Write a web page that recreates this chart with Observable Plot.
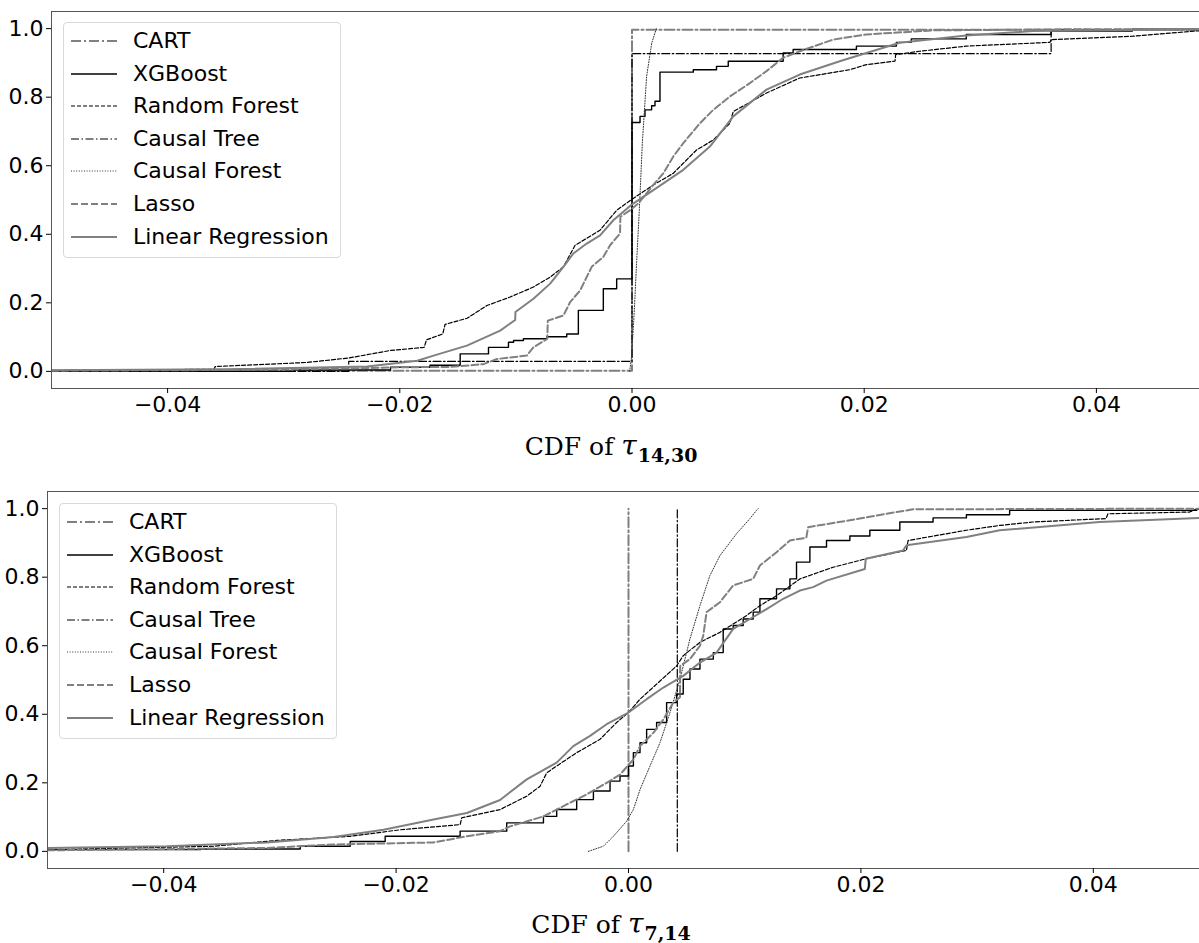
<!DOCTYPE html>
<html><head><meta charset="utf-8">
<script src="https://cdn.jsdelivr.net/npm/d3@7"></script>
<script src="https://cdn.jsdelivr.net/npm/@observablehq/plot@0.6"></script>
<style>
html,body{margin:0;padding:0;background:#fff;overflow:hidden;width:1199px;height:943px;}
.panel{position:absolute;left:0;width:1199px;}
.legend{position:absolute;background:rgba(255,255,255,0.85);border:1px solid #d9d9d9;border-radius:4px;box-sizing:border-box;font-family:"DejaVu Sans";font-size:22px;color:#000;}
.legend .row{position:absolute;left:0;height:32px;width:100%;}
.legend .row svg{position:absolute;left:6px;top:0;}
.legend .row span{position:absolute;left:69px;top:0;line-height:32px;white-space:nowrap;}
.caption{position:absolute;left:411px;width:400px;text-align:center;font-family:"DejaVu Serif";font-size:25px;line-height:25px;color:#000;white-space:nowrap;}
.caption i{font-style:italic;font-size:28px;}
.caption b{position:relative;top:7px;font-size:19px;font-weight:bold;margin-left:1px;}
</style></head><body>
<div id="top" class="panel" style="top:0"></div>
<div id="bottom" class="panel" style="top:480px"></div>
<div class="caption" style="top:433px">CDF of <i>τ</i><b>14,30</b></div>
<div class="caption" style="top:911px">CDF of <i>τ</i><b>7,14</b></div>
<script>
// ---------- data (x = treatment effect, y = cumulative share) ----------
const methodNames = ["CART","XGBoost","Random Forest","Causal Tree","Causal Forest","Lasso","Linear Regression"];
const xTicks = [-0.04,-0.02,0.00,0.02,0.04];
const yTicks = [0.0,0.2,0.4,0.6,0.8,1.0];

// panel 1 : tau_{14,30}
const top_CART = [[-0.05,0.002],[0,0.997],[0.05,0.997]];
const top_XGBoost = [[-0.05,0.0],[-0.0291,0.004],[-0.0208,0.012],[-0.0174,0.018],[-0.0148,0.051],[-0.01236,0.070],[-0.01064,0.085],[-0.0102,0.090],[-0.00935,0.095],[-0.00734,0.101],[-0.00562,0.109],[-0.00462,0.178],[-0.00247,0.241],[-0.00132,0.270],[0,0.726],[0.00069,0.744],[0.00112,0.763],[0.00169,0.775],[0.00198,0.788],[0.00241,0.873],[0.00528,0.880],[0.00728,0.890],[0.00829,0.905],[0.01302,0.929],[0.01388,0.939],[0.01933,0.949],[0.02277,0.960],[0.02406,0.970],[0.02879,0.983],[0.0361,0.993],[0.0431,0.998],[0.05,0.998]];
const top_RandomForest = [[-0.05,0.003],[-0.036,0.006],[-0.0359,0.014],[-0.028,0.026],[-0.0244,0.039],[-0.0208,0.061],[-0.0179,0.070],[-0.0177,0.092],[-0.0163,0.109],[-0.0161,0.137],[-0.0142,0.155],[-0.0125,0.192],[-0.01049,0.217],[-0.00849,0.246],[-0.00705,0.275],[-0.00591,0.305],[-0.0049,0.368],[-0.0039,0.388],[-0.00275,0.412],[-0.00132,0.470],[-0.00009,0.500],[0.00184,0.544],[0.00356,0.578],[0.00556,0.646],[0.007,0.675],[0.00843,0.724],[0.00872,0.758],[0.01158,0.812],[0.01445,0.856],[0.01875,0.880],[0.02019,0.895],[0.02265,0.905],[0.02271,0.924],[0.02477,0.934],[0.02879,0.949],[0.036,0.960],[0.0361,0.968],[0.04313,0.978],[0.04857,0.993],[0.05,0.995]];
const top_CausalTree = [[-0.05,0.0],[-0.0244,0.029],[0,0.927],[0.0361,0.997],[0.05,0.997]];
const top_CausalForest = [[-0.0002,0.0],[-0.00005,0.04],[0.0001,0.12],[0.0002,0.178],[0.0004,0.32],[0.00063,0.47],[0.00089,0.666],[0.00126,0.861],[0.0017,0.958],[0.0021,1.0]];
const top_Lasso = [[-0.05,0.002],[-0.035,0.004],[-0.025,0.008],[-0.01996,0.012],[-0.01566,0.013],[-0.01279,0.021],[-0.01164,0.036],[-0.00906,0.046],[-0.00849,0.070],[-0.0073,0.095],[-0.00725,0.148],[-0.00591,0.163],[-0.00533,0.202],[-0.00447,0.236],[-0.00347,0.305],[-0.00247,0.334],[-0.00189,0.368],[-0.00103,0.402],[-0.001,0.451],[-0.00017,0.470],[0.00054,0.490],[0.00184,0.544],[0.0027,0.578],[0.00356,0.627],[0.00442,0.666],[0.00585,0.724],[0.007,0.763],[0.00843,0.802],[0.01015,0.841],[0.01158,0.876],[0.01302,0.915],[0.01445,0.934],[0.01732,0.968],[0.02019,0.983],[0.02592,0.995],[0.0374,0.998],[0.05,0.999]];
const top_LinearRegression = [[-0.05,0.003],[-0.035,0.006],[-0.0228,0.014],[-0.0185,0.031],[-0.01709,0.046],[-0.01422,0.075],[-0.01135,0.119],[-0.01006,0.150],[-0.01004,0.173],[-0.00849,0.212],[-0.00705,0.256],[-0.00591,0.305],[-0.00505,0.344],[-0.0039,0.373],[-0.00275,0.397],[-0.00161,0.441],[-0.00009,0.485],[0.00184,0.529],[0.00442,0.588],[0.00671,0.656],[0.00872,0.744],[0.01158,0.822],[0.01445,0.866],[0.01789,0.905],[0.02019,0.929],[0.02306,0.959],[0.02879,0.980],[0.03452,0.993],[0.04877,0.998],[0.05,0.998]];

// panel 2 : tau_{7,14}
const bot_CART = [[0,0],[0,1]];
const bot_XGBoost = [[-0.05,0.005],[-0.03684,0.007],[-0.02825,0.015],[-0.02395,0.029],[-0.02094,0.044],[-0.01449,0.059],[-0.01048,0.083],[-0.00732,0.102],[-0.00618,0.122],[-0.00446,0.151],[-0.00302,0.176],[-0.00159,0.205],[-0.00073,0.220],[0,0.249],[0.00042,0.288],[0.00099,0.317],[0.00156,0.356],[0.00242,0.376],[0.00328,0.434],[0.00414,0.459],[0.00471,0.502],[0.00529,0.532],[0.00615,0.561],[0.0073,0.580],[0.00815,0.649],[0.00901,0.659],[0.00987,0.678],[0.01073,0.698],[0.01131,0.737],[0.01274,0.766],[0.01389,0.795],[0.01446,0.844],[0.01561,0.888],[0.01704,0.907],[0.01905,0.920],[0.02077,0.937],[0.02335,0.961],[0.02621,0.973],[0.02908,0.982],[0.0328,0.995],[0.0489,0.998],[0.05,0.998]];
const bot_RandomForest = [[-0.05,0.005],[-0.0357,0.015],[-0.03025,0.032],[-0.02395,0.044],[-0.01964,0.063],[-0.01449,0.078],[-0.01435,0.098],[-0.01105,0.122],[-0.00876,0.161],[-0.00761,0.190],[-0.00704,0.229],[-0.00618,0.249],[-0.00446,0.288],[-0.00245,0.327],[-0.00102,0.376],[-0.00001,0.405],[0.00099,0.444],[0.00242,0.488],[0.00414,0.541],[0.00471,0.571],[0.00615,0.610],[0.00787,0.639],[0.01016,0.688],[0.01131,0.717],[0.01274,0.746],[0.01475,0.795],[0.01761,0.829],[0.02048,0.854],[0.02392,0.878],[0.02406,0.907],[0.02908,0.937],[0.03195,0.951],[0.03481,0.961],[0.0411,0.971],[0.04126,0.985],[0.04828,0.990],[0.04885,0.998],[0.05,0.998]];
const bot_CausalTree = [[0.0042,0],[0.0042,1]];
const bot_CausalForest = [[-0.00345,0.0],[-0.00216,0.015],[-0.0013,0.044],[-0.00016,0.088],[0.00042,0.122],[0.00099,0.180],[0.00185,0.249],[0.00271,0.317],[0.00357,0.405],[0.00443,0.502],[0.00529,0.620],[0.00615,0.717],[0.00701,0.805],[0.00787,0.863],[0.0093,0.927],[0.01045,0.971],[0.01102,0.995],[0.01116,1.0]];
const bot_Lasso = [[-0.05,0.003],[-0.03111,0.010],[-0.02538,0.020],[-0.01678,0.026],[-0.01391,0.044],[-0.01105,0.059],[-0.01019,0.073],[-0.00732,0.102],[-0.00532,0.137],[-0.0036,0.166],[-0.00188,0.200],[-0.00073,0.224],[0.00042,0.268],[0.00099,0.307],[0.00214,0.346],[0.003,0.385],[0.00385,0.434],[0.00443,0.450],[0.00445,0.541],[0.00529,0.561],[0.00615,0.600],[0.00643,0.629],[0.00672,0.698],[0.00787,0.727],[0.00901,0.776],[0.01073,0.795],[0.01131,0.834],[0.01274,0.873],[0.01389,0.907],[0.0153,0.915],[0.01546,0.946],[0.01905,0.966],[0.02221,0.985],[0.02449,0.998],[0.05,1.0]];
const bot_LinearRegression = [[-0.05,0.010],[-0.03971,0.015],[-0.03111,0.026],[-0.02538,0.042],[-0.02108,0.063],[-0.01678,0.093],[-0.01391,0.112],[-0.01105,0.150],[-0.00876,0.210],[-0.00618,0.259],[-0.00475,0.307],[-0.00331,0.337],[-0.00188,0.371],[0.0,0.405],[0.00156,0.444],[0.003,0.478],[0.00471,0.512],[0.00615,0.551],[0.00758,0.580],[0.00901,0.649],[0.01045,0.678],[0.01188,0.707],[0.01331,0.737],[0.01475,0.761],[0.01589,0.771],[0.01704,0.790],[0.02034,0.824],[0.02042,0.854],[0.02363,0.878],[0.02392,0.893],[0.02908,0.917],[0.03195,0.937],[0.04054,0.961],[0.04906,0.973],[0.05,0.973]];

// ---------- styles ----------
const lineStyle = {
  "CART":              {stroke:"#808080", strokeWidth:2,   strokeDasharray:"10,3,2,3",      curve:"step-after"},
  "XGBoost":           {stroke:"#000000", strokeWidth:1.4, strokeDasharray:null,            curve:"step-after"},
  "Random Forest":     {stroke:"#000000", strokeWidth:1.2, strokeDasharray:"4,2",           curve:"linear"},
  "Causal Tree":       {stroke:"#000000", strokeWidth:1.2, strokeDasharray:"8,2.5,1.5,2.5", curve:"step-after"},
  "Causal Forest":     {stroke:"#333333", strokeWidth:1,   strokeDasharray:"1,1.6",         curve:"linear"},
  "Lasso":             {stroke:"#808080", strokeWidth:2,   strokeDasharray:"7,3",           curve:"linear"},
  "Linear Regression": {stroke:"#808080", strokeWidth:2,   strokeDasharray:null,            curve:"linear"}
};

const topSeries = [top_CART, top_XGBoost, top_RandomForest, top_CausalTree, top_CausalForest, top_Lasso, top_LinearRegression];
const botSeries = [bot_CART, bot_XGBoost, bot_RandomForest, bot_CausalTree, bot_CausalForest, bot_Lasso, bot_LinearRegression];

function makePanel(series, marginLeft, marginRight) {
  const marks = series.map((data, i) => {
    const s = lineStyle[methodNames[i]];
    const opts = {x: d => d[0], y: d => d[1], stroke: s.stroke, strokeWidth: s.strokeWidth, curve: s.curve, clip: true};
    if (s.strokeDasharray) opts.strokeDasharray = s.strokeDasharray;
    return Plot.line(data, opts);
  });
  return Plot.plot({
    width: 1199, height: 420,
    marginLeft, marginRight, marginTop: 11, marginBottom: 32,
    x: {domain: [-0.05, 0.05]},
    y: {domain: [-0.05, 1.05]},
    style: {fontFamily: "DejaVu Sans", fontSize: "22px", color: "#000", background: "transparent"},
    marks: [
      ...marks,
      Plot.frame({stroke: "#555", strokeWidth: 1}),
      Plot.axisX({ticks: xTicks, tickFormat: d3.format(".2f"), tickSize: 5, tickPadding: 3, label: null, fontSize: 22}),
      Plot.axisY({ticks: yTicks, tickFormat: d3.format(".1f"), tickSize: 5, tickPadding: 3, label: null, fontSize: 22})
    ]
  });
}

document.getElementById("top").appendChild(makePanel(topSeries, 51, -13));
document.getElementById("bottom").appendChild(makePanel(botSeries, 47, -10));

function makeLegend(left, top) {
  const box = document.createElement("div");
  box.className = "legend";
  box.style.left = left + "px";
  box.style.top = top + "px";
  box.style.width = "278px";
  box.style.height = "236px";
  methodNames.forEach((name, i) => {
    const s = lineStyle[name];
    const row = document.createElement("div");
    row.className = "row";
    row.style.top = (2 + i * 32.6) + "px";
    const dash = s.strokeDasharray ? ` stroke-dasharray="${s.strokeDasharray}"` : "";
    row.innerHTML = `<svg width="48" height="32"><line x1="1" x2="47" y1="16" y2="16" stroke="${s.stroke}" stroke-width="${s.strokeWidth}"${dash}/></svg><span>${name}</span>`;
    box.appendChild(row);
  });
  document.body.appendChild(box);
}
makeLegend(63, 22);
makeLegend(59, 503);
</script>
</body></html>
